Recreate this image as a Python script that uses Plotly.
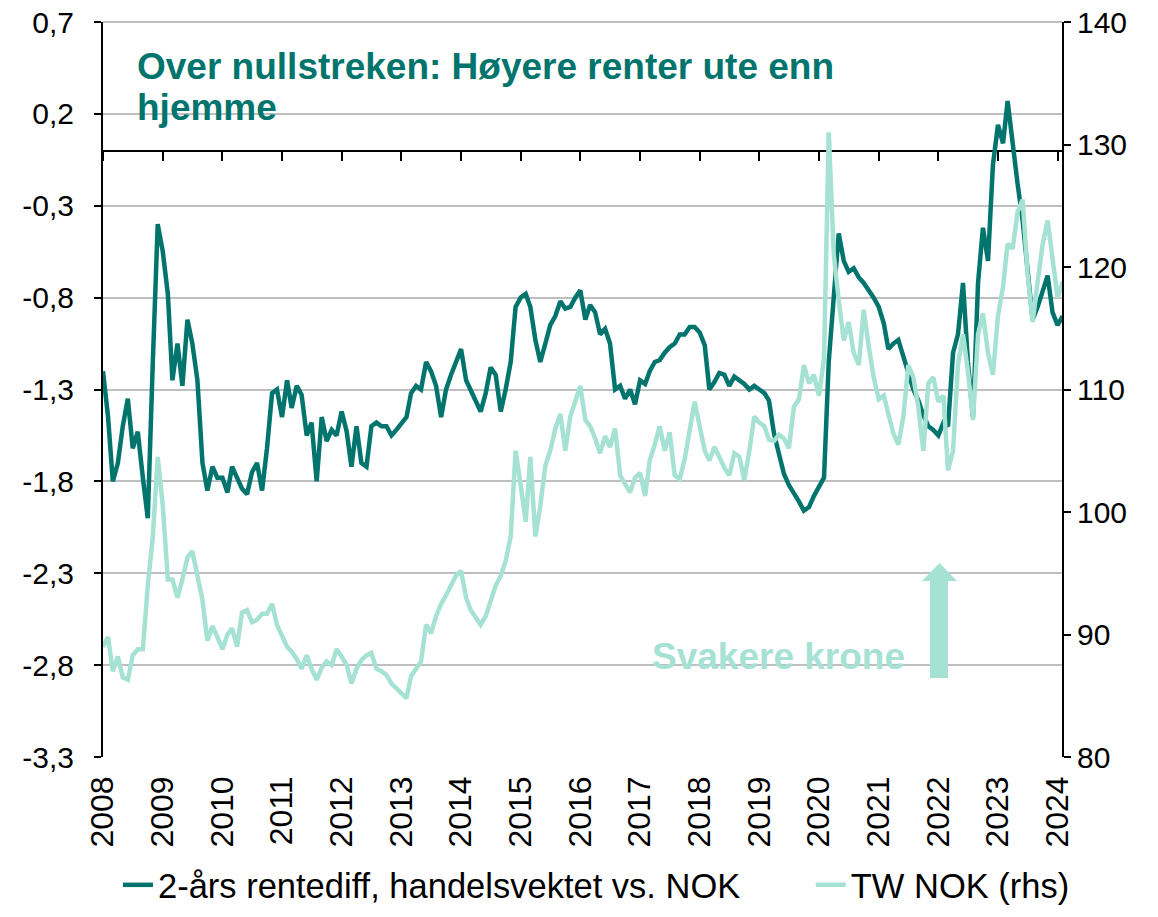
import pandas as pd
import plotly.graph_objects as go

# Monthly observations, Jan 2008 .. Feb 2024
rentediff_2008_2015 = [
    -1.20, -1.45, -1.80, -1.70, -1.50, -1.35, -1.62, -1.53, -1.78, -2.00, -1.15, -0.40,
    -0.55, -0.78, -1.25, -1.05, -1.28, -0.92, -1.05, -1.25, -1.70, -1.85, -1.72, -1.78,
    -1.78, -1.86, -1.72, -1.78, -1.84, -1.87, -1.75, -1.70, -1.85, -1.62, -1.32, -1.30,
    -1.45, -1.25, -1.40, -1.28, -1.33, -1.55, -1.48, -1.80, -1.45, -1.58, -1.52, -1.55,
    -1.42, -1.53, -1.72, -1.50, -1.70, -1.72, -1.50, -1.48, -1.50, -1.50, -1.55, -1.52,
    -1.48, -1.45, -1.32, -1.28, -1.30, -1.15, -1.20, -1.28, -1.45, -1.30, -1.22, -1.15,
    -1.08, -1.25, -1.30, -1.36, -1.42, -1.32, -1.18, -1.22, -1.42, -1.30, -1.15, -0.85,
    -0.80, -0.78, -0.85, -1.03, -1.15, -1.05, -0.95, -0.90, -0.82, -0.86, -0.85, -0.80,
]
rentediff_2016_2024 = [
    -0.76, -0.92, -0.84, -0.88, -1.00, -0.97, -1.05, -1.30, -1.28, -1.35, -1.30, -1.38,
    -1.25, -1.27, -1.20, -1.15, -1.14, -1.10, -1.07, -1.05, -1.00, -1.00, -0.96, -0.96,
    -0.99, -1.06, -1.30, -1.26, -1.21, -1.22, -1.28, -1.23, -1.25, -1.27, -1.30, -1.28,
    -1.30, -1.32, -1.36, -1.54, -1.65, -1.76, -1.82, -1.86, -1.91, -1.96, -1.94, -1.88,
    -1.83, -1.78, -1.15, -0.80, -0.45, -0.60, -0.66, -0.64, -0.69, -0.72, -0.76, -0.80,
    -0.85, -0.94, -1.08, -1.05, -1.03, -1.12, -1.22, -1.30, -1.36, -1.44, -1.50, -1.52,
    -1.55, -1.48, -1.50, -1.10, -1.00, -0.72, -1.15, -1.45, -0.72, -0.42, -0.60, -0.08,
    0.14, 0.04, 0.27, 0.02, -0.18, -0.38, -0.64, -0.92, -0.85, -0.76, -0.68, -0.88,
    -0.95, -0.90,
]
tw_nok_2008_2015 = [
    89.0, 89.8, 87.0, 88.2, 86.5, 86.3, 88.3, 88.8, 88.8, 94.0, 98.0, 104.5,
    100.5, 94.5, 94.5, 93.0, 94.5, 96.3, 96.8, 95.0, 92.8, 89.5, 90.7, 89.8,
    88.8, 90.0, 90.5, 89.0, 91.8, 92.0, 91.0, 91.2, 91.7, 91.7, 92.5, 90.8,
    89.8, 89.0, 88.6, 88.0, 87.2, 88.3, 87.2, 86.3, 87.3, 87.8, 87.5, 88.8,
    88.2, 87.5, 86.0, 87.2, 87.9, 88.3, 88.5, 87.2, 87.0, 86.7, 86.0, 85.6,
    85.2, 84.8, 86.6, 87.3, 87.8, 90.8, 90.1, 91.5, 92.5, 93.2, 94.0, 94.8,
    95.2, 93.0, 92.0, 91.3, 90.8, 91.5, 92.8, 94.0, 94.8, 96.0, 98.0, 105.0,
    102.2, 99.2, 104.5, 98.0, 100.5, 103.8, 105.0, 106.8, 108.0, 105.0, 107.8, 108.9,
]
tw_nok_2016_2024 = [
    110.3, 107.5, 107.0, 106.0, 104.8, 106.2, 105.3, 106.8, 103.0, 102.3, 101.6, 102.8,
    103.2, 101.3, 104.2, 105.5, 107.0, 105.0, 106.5, 103.0, 102.7, 104.3, 106.5, 109.0,
    107.0, 105.0, 104.2, 105.3, 104.5, 103.6, 103.0, 104.8, 104.5, 102.6, 105.0, 107.8,
    107.3, 107.0, 105.9, 105.8, 106.3, 106.0, 105.2, 108.6, 109.2, 112.0, 110.5, 111.2,
    109.5, 112.5, 131.0, 121.0, 117.3, 114.0, 115.5, 113.0, 112.0, 116.5, 113.5, 111.0,
    109.2, 109.5, 108.0, 106.4, 105.5, 107.8, 112.0, 111.0, 108.5, 105.0, 110.5, 111.0,
    109.0, 109.5, 103.4, 105.0, 112.0, 114.5, 111.5, 107.5, 114.5, 116.2, 113.0, 111.2,
    116.0, 118.4, 121.9, 121.5, 124.5, 125.5, 119.5, 115.5, 118.8, 121.8, 123.8, 121.0,
    117.5, 118.8,
]
rentediff = rentediff_2008_2015 + rentediff_2016_2024
tw_nok = tw_nok_2008_2015 + tw_nok_2016_2024
dates = pd.date_range("2008-01-01", periods=len(rentediff), freq="MS")

left_tick_values = [0.7, 0.2, -0.3, -0.8, -1.3, -1.8, -2.3, -2.8, -3.3]
left_tick_labels = ["0,7", "0,2", "-0,3", "-0,8", "-1,3", "-1,8", "-2,3", "-2,8", "-3,3"]
right_tick_values = [80, 90, 100, 110, 120, 130, 140]

name_diff = "2-års rentediff, handelsvektet vs. NOK"
name_nok = "TW NOK (rhs)"
title_line1 = "Over nullstreken: Høyere renter ute enn"
title_line2 = "hjemme"
note_text = "Svakere krone"

DARK = "#00746d"
LIGHT = "#a6e2d3"
GRID = "#bfbfbf"
FONT = "Liberation Sans, Arial, sans-serif"

fig = go.Figure()
fig.add_trace(go.Scatter(x=dates, y=rentediff, name=name_diff, mode="lines",
                         line=dict(color=DARK, width=4.5), yaxis="y", xaxis="x",
                         legend="legend"))
fig.add_trace(go.Scatter(x=dates, y=tw_nok, name=name_nok, mode="lines",
                         line=dict(color=LIGHT, width=4.5), yaxis="y2", xaxis="x",
                         legend="legend2"))
# invisible helper trace so the zero-line tick axis is drawn
fig.add_trace(go.Scatter(x=dates[:1], y=[None], xaxis="x2", yaxis="y",
                         showlegend=False, hoverinfo="skip"))

x_range = ["2008-01-01", "2024-01-28"]

legend_common = dict(orientation="h", y=-0.174, yanchor="middle", xanchor="left",
                     font=dict(size=34.5, family=FONT, color="black"),
                     bgcolor="rgba(0,0,0,0)")

fig.update_layout(
    width=1158, height=917,
    margin=dict(l=103, r=96, t=22, b=160, autoexpand=False),
    paper_bgcolor="white", plot_bgcolor="white",
    font=dict(family=FONT, size=30, color="black"),
    showlegend=True,
    legend=dict(x=0.0156, **legend_common),
    legend2=dict(x=0.738, **legend_common),
    xaxis=dict(type="date", range=x_range, tick0="2008-01-01", dtick="M12",
               tickformat="%Y", tickangle=-90, showgrid=False, zeroline=False,
               showline=False, ticks="", tickfont=dict(size=32),
               ticklabelstandoff=12, automargin=False, ticklabeloverflow="allow"),
    xaxis2=dict(type="date", range=x_range, overlaying="x", anchor="free", position=0.825,
                tick0="2008-01-01", dtick="M12", showticklabels=False, showgrid=False,
                zeroline=False, showline=False, ticks="outside", ticklen=9,
                tickwidth=2, tickcolor="black", automargin=False),
    yaxis=dict(range=[-3.3, 0.7], tickmode="array", tickvals=left_tick_values,
               ticktext=left_tick_labels,
               showgrid=True, gridcolor=GRID, gridwidth=2,
               zeroline=True, zerolinecolor="black", zerolinewidth=2,
               showline=True, linecolor="black", linewidth=2,
               ticks="outside", ticklen=7, tickwidth=2, tickcolor="black",
               tickfont=dict(size=30), ticklabelstandoff=14, automargin=False,
               ticklabeloverflow="allow"),
    yaxis2=dict(range=[80, 140], tickmode="array", tickvals=right_tick_values,
                overlaying="y", side="right",
                showgrid=False, zeroline=False,
                showline=True, linecolor="black", linewidth=2,
                ticks="outside", ticklen=7, tickwidth=2, tickcolor="black",
                tickfont=dict(size=30), automargin=False, ticklabeloverflow="allow"),
)

# top gridline at the upper edge of the plot area
fig.add_shape(type="line", xref="paper", yref="paper", x0=0, x1=1, y0=1, y1=1,
              line=dict(color=GRID, width=2), layer="below")

fig.add_annotation(text="<b>" + title_line1 + "</b>", xref="paper", yref="paper",
                   x=0.033, y=0.9388, xanchor="left", yanchor="middle", showarrow=False,
                   font=dict(size=37, color=DARK, family=FONT))
fig.add_annotation(text="<b>" + title_line2 + "</b>", xref="paper", yref="paper",
                   x=0.033, y=0.8843, xanchor="left", yanchor="middle", showarrow=False,
                   font=dict(size=37, color=DARK, family=FONT))
fig.add_annotation(text="<b>" + note_text + "</b>", xref="paper", yref="paper",
                   x=0.7044, y=0.137, xanchor="center", yanchor="middle", showarrow=False,
                   font=dict(size=37, color=LIGHT, family=FONT))
fig.add_shape(type="path", xref="paper", yref="paper",
              path="M 0.8624 0.1075 L 0.8811 0.1075 L 0.8811 0.2395 L 0.8905 0.2395 "
                   "L 0.8723 0.2639 L 0.8540 0.2395 L 0.8624 0.2395 Z",
              fillcolor=LIGHT, line=dict(width=0), layer="above")

# remove the browser's default 8px page margin so the figure fills the window
fig.write_html("out.html",
               config={"displayModeBar": False},
               post_script="document.body.style.margin='0';document.body.style.overflow='hidden';")
